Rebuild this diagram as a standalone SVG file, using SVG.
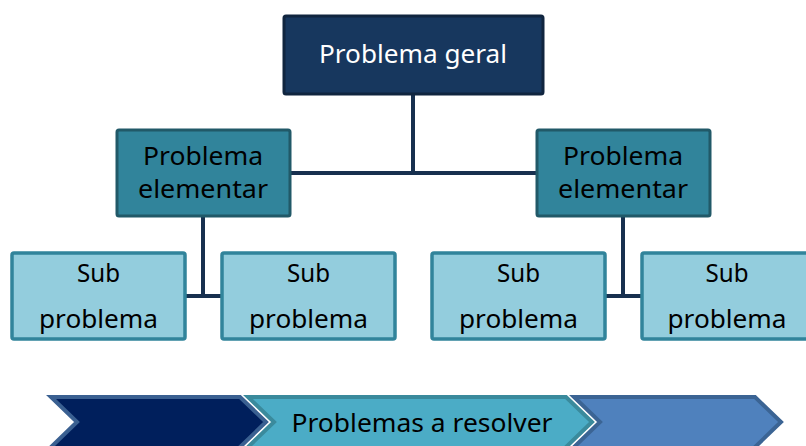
<svg xmlns="http://www.w3.org/2000/svg" width="806" height="446" viewBox="0 0 806 446">
<style>
text{font-family:"Noto Sans","Liberation Sans",sans-serif;text-anchor:middle;font-size:25px;fill:#000}
.top rect{fill:#17375e;stroke:#10253f;stroke-width:3}
.top text{fill:#fff}
.mid rect{fill:#31849b;stroke:#215968;stroke-width:3}
.sub rect{fill:#93cddd;stroke:#31849b;stroke-width:3.5}
.conn line{stroke:#17304f;stroke-width:4}
.chev polygon{stroke-width:4;stroke-linejoin:miter}
</style>
<rect width="806" height="446" fill="#fff"/>
<g id="connectors" class="conn">
<line x1="413" y1="95" x2="413" y2="175"/>
<line x1="291" y1="173" x2="536" y2="173"/>
<line x1="203" y1="217" x2="203" y2="298"/>
<line x1="186" y1="296" x2="221" y2="296"/>
<line x1="623" y1="217" x2="623" y2="298"/>
<line x1="606" y1="296" x2="641" y2="296"/>
</g>
<g id="n-top" class="top">
<rect x="284" y="16" width="259" height="78" rx="2"/>
<text x="413" y="63" textLength="188" lengthAdjust="spacingAndGlyphs">Problema geral</text>
</g>
<g id="n-mid-left" class="mid">
<rect x="117" y="130" width="173" height="86" rx="2"/>
<text x="203" y="165" textLength="120" lengthAdjust="spacingAndGlyphs">Problema</text>
<text x="203" y="198" textLength="130" lengthAdjust="spacingAndGlyphs">elementar</text>
</g>
<g id="n-mid-right" class="mid">
<rect x="537" y="130" width="173" height="86" rx="2"/>
<text x="623" y="165" textLength="120" lengthAdjust="spacingAndGlyphs">Problema</text>
<text x="623" y="198" textLength="130" lengthAdjust="spacingAndGlyphs">elementar</text>
</g>
<g id="n-sub-1" class="sub">
<rect x="12" y="253" width="173" height="86" rx="2"/>
<text x="98.5" y="282" textLength="43" lengthAdjust="spacingAndGlyphs">Sub</text>
<text x="98.5" y="328" textLength="119" lengthAdjust="spacingAndGlyphs">problema</text>
</g>
<g id="n-sub-2" class="sub">
<rect x="222" y="253" width="173" height="86" rx="2"/>
<text x="308.5" y="282" textLength="43" lengthAdjust="spacingAndGlyphs">Sub</text>
<text x="308.5" y="328" textLength="119" lengthAdjust="spacingAndGlyphs">problema</text>
</g>
<g id="n-sub-3" class="sub">
<rect x="432" y="253" width="173" height="86" rx="2"/>
<text x="518.5" y="282" textLength="43" lengthAdjust="spacingAndGlyphs">Sub</text>
<text x="518.5" y="328" textLength="119" lengthAdjust="spacingAndGlyphs">problema</text>
</g>
<g id="n-sub-4" class="sub">
<rect x="642" y="253" width="173" height="86" rx="2"/>
<text x="727" y="282" textLength="43" lengthAdjust="spacingAndGlyphs">Sub</text>
<text x="727" y="328" textLength="119" lengthAdjust="spacingAndGlyphs">problema</text>
</g>
<g id="chevrons" class="chev">
<polygon points="51,397 240,397 266,422 237,450 48,450 77,422" fill="#001f5c" stroke="#3a6091"/>
<polygon points="248,397 566,397 592,422 563,450 245,450 274,422" fill="#4bacc6" stroke="#3a8a9c"/>
<polygon points="574,397 755,397 781,422 752,450 571,450 600,422" fill="#4f81bd" stroke="#3b6494"/>
<text x="422" y="432" textLength="261" lengthAdjust="spacingAndGlyphs">Problemas a resolver</text>
</g>
</svg>
